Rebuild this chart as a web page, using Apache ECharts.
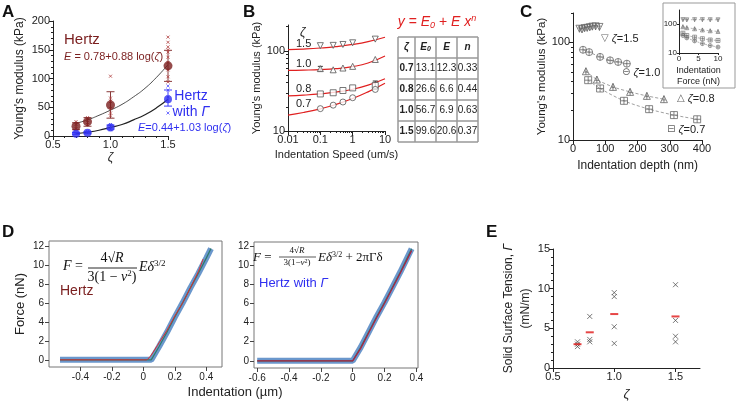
<!DOCTYPE html>
<html><head><meta charset="utf-8">
<script src="https://cdn.jsdelivr.net/npm/echarts@6/dist/echarts.min.js"></script>
<style>html,body{margin:0;padding:0;background:#fff}#c{width:738px;height:405px}</style>
</head><body><div id="c"></div>
<script>
// ---------- Panel A data ----------
const zetaA = [0.7, 0.8, 1.0, 1.5];
const hertzMean = [17, 25, 54, 122];
const hertzLo = [11, 17, 31, 95];
const hertzHi = [23, 32, 77, 149];
const gammaMean = [4, 5.5, 15, 64];
const gammaLo = [3, 4, 12, 52];
const gammaHi = [6, 7.5, 19, 80];
const hertzIndivX = [0.7,0.7,0.7,0.8,0.8,0.8,1.0,1.0,1.0,1.0,1.0,1.0,1.5,1.5,1.5,1.5,1.5,1.5,1.5,1.5,1.5,1.5];
const hertzIndivY = [25,20,13,32,27,20,104,66,60,48,40,35,172,163,155,146,137,128,115,103,94,150];
const gammaIndivX = [0.7,0.8,1.0,1.0,1.5,1.5,1.5,1.5];
const gammaIndivY = [6,8,20,11,87,80,68,40];
const fitZeta = [0.7,0.8,0.9,1.0,1.1,1.2,1.3,1.4,1.5];
const hertzFit = [22,28,36,45,55,68,83,102,124];
const gammaFit = [4,6.5,10,15,20,28,37,49,64];

// ---------- Panel B data ----------
const speedB = [0.1, 0.25, 0.5, 1, 5];
const b15 = [116, 117, 120, 126, 140];
const b10 = [60, 58, 61, 64, 78];
const b08 = [29, 30, 32, 34.5, 37];
const b07 = [19, 21, 23, 26, 33];
const fitSpeed = [0.01, 0.03, 0.1, 0.3, 1, 3, 10];
const fit15 = [103.3, 105.2, 108.4, 112.8, 120.2, 130.5, 147.9];
const fit10 = [57.1, 57.5, 58.3, 59.9, 63.6, 70.5, 86.2];
const fit08 = [27.5, 28.0, 29.0, 30.5, 33.2, 37.3, 44.8];
const fit07 = [15.8, 17.0, 18.9, 21.4, 25.4, 30.8, 39.4];
const tableZeta = ['0.7','0.8','1.0','1.5'];
const tableE0 = ['13.1','26.6','56.7','99.6'];
const tableE = ['12.3','6.6','6.9','20.6'];
const tableN = ['0.33','0.44','0.63','0.37'];

// ---------- Panel C data ----------
const c15x = [20,28,36,44,52,60,70,82];
const c15y = [138,136,140,141,143,145,146,144];
const c10x = [31,50,84,115,140,167];
const c10y = [84,79.5,71,65.5,63,60.5];
const c08x = [40,74,124,177,229,282];
const c08y = [50.6,41.6,35,31.1,28.3,26.2];
const c07x = [47,84,158,236,313,385];
const c07y = [41,33.7,25.2,20.7,18,16.3];
const forceIn = [1,2,4,6,8,10];
const in15 = [140,138,140,140,139,138];
const in10 = [80,74,68,62,58,55];
const in08 = [48,40,35,31,28,27];
const in07 = [40,33,26,21,18,16];

// ---------- Panel D data ----------
const dLx = [-0.53,-0.3,0.0,0.05,0.1,0.15,0.2,0.25,0.3,0.35,0.4,0.43];
const dLy = [0,0,0,0,1.4,2.9,4.5,6.0,7.6,9.1,10.7,11.7];
const dLfx = [-0.53,0.0,0.02,0.05,0.1,0.15,0.2,0.25,0.3,0.35,0.38];
const dLfy = [0,0,0,0.5,1.8,3.1,4.6,6.0,7.6,9.3,10.6];
const dRx = [-0.6,-0.3,0.0,0.05,0.1,0.15,0.2,0.25,0.3,0.37];
const dRy = [0,0,0,1.4,3.0,4.6,6.1,7.7,9.3,11.7];
const dRfx = [-0.6,-0.3,0.0,0.05,0.1,0.15,0.2,0.25,0.3,0.37];
const dRfy = [0,0,0,1.3,2.9,4.5,6.0,7.6,9.2,11.5];

// ---------- Panel E data ----------
const eX = [0.7,0.7,0.7,0.8,0.8,0.8,1.0,1.0,1.0,1.0,1.5,1.5,1.5,1.5];
const eY = [3.3,3.0,2.7,6.5,3.6,3.3,9.5,9.0,5.2,3.1,10.5,6.0,4.0,3.3];
const eMeanX = [0.7,0.8,1.0,1.5];
const eMean = [3.0,4.5,6.8,6.5];

const F = "'Liberation Sans', Arial, sans-serif";
const SERIF = "'Liberation Serif', 'DejaVu Serif', serif";
const DRED = '#7a1e1e', BLUE = '#2f2ff0', RED = '#e02020', GRAY = '#555';
const zip = (a,b) => a.map((v,i)=>[v,b[i]]);
const X = 'path://M0,0L10,10M10,0L0,10';
const circPlus = 'path://M0,10A10,10 0 1,1 20,10A10,10 0 1,1 0,10Z M10,0L10,20M0,10L20,10';
const rectPlus = 'path://M0,0L20,0L20,20L0,20Z M10,0L10,20M0,10L20,10';
const triPlus = 'path://M10,0L20,18L0,18Z M10,0L10,18M5,11L15,11';
const triDownPlus = 'path://M0,0L20,0L10,18Z M10,0L10,18M5,7L15,7';

function ax(o) {
  const base = {
    axisLine:{show:true,onZero:false,lineStyle:{color:'#222',width:1}},
    axisTick:{show:true,length:4,lineStyle:{color:'#222'}},
    axisLabel:{color:'#222',fontSize:11,fontFamily:F,margin:3},
    splitLine:{show:false},
    nameTextStyle:{color:'#222',fontFamily:F,fontSize:12}
  };
  for (const k in o) {
    if (base[k] && typeof base[k]==='object' && !Array.isArray(o[k]) && typeof o[k]==='object') base[k] = Object.assign({}, base[k], o[k]);
    else base[k] = o[k];
  }
  return base;
}

function errBars(xs, lo, hi, xi, yi, color, w) {
  return {
    type:'custom', xAxisIndex:xi, yAxisIndex:yi, z:3,
    data: xs.map((x,i)=>[x, lo[i], hi[i]]),
    renderItem(params, api) {
      const p1 = api.coord([api.value(0), api.value(1)]);
      const p2 = api.coord([api.value(0), api.value(2)]);
      const st = {stroke:color, lineWidth:1};
      return {type:'group', children:[
        {type:'line', shape:{x1:p1[0],y1:p1[1],x2:p2[0],y2:p2[1]}, style:st},
        {type:'line', shape:{x1:p1[0]-w,y1:p1[1],x2:p1[0]+w,y2:p1[1]}, style:st},
        {type:'line', shape:{x1:p2[0]-w,y1:p2[1],x2:p2[0]+w,y2:p2[1]}, style:st}
      ]};
    }
  };
}

const logFmt = v => (v===10||v===100) ? String(v) : '';

const grids = [
  {left:53, top:21, width:115, height:115},   // A
  {left:288, top:25, width:97, height:106},   // B
  {left:573, top:13, width:129, height:127},  // C
  {left:679, top:10, width:39, height:43},    // C inset
  {left:49, top:241, width:173, height:126},  // D left
  {left:254, top:242, width:164, height:126}, // D right
  {left:553, top:249, width:147, height:119}  // E
];

const xAxes = [
  ax({gridIndex:0, type:'value', min:0.5, max:1.5, interval:0.5, minorTick:{show:true,splitNumber:5,length:2,lineStyle:{color:'#222'}},
      axisLabel:{formatter:v=>v.toFixed(1)}, name:'ζ', nameLocation:'middle', nameGap:16, nameTextStyle:{fontStyle:'italic',fontSize:12}}),
  ax({gridIndex:1, type:'log', min:0.01, max:10, axisLabel:{formatter:v=>String(+v.toPrecision(3))},
      name:'Indentation Speed (um/s)', nameLocation:'middle', nameGap:18, nameTextStyle:{fontSize:11}}),
  ax({gridIndex:2, type:'value', min:0, max:400, interval:100,
      name:'Indentation depth (nm)', nameLocation:'middle', nameGap:20, nameTextStyle:{fontSize:12}}),
  ax({gridIndex:3, type:'value', min:0, max:10, interval:5, axisTick:{length:2}, axisLabel:{fontSize:8,margin:2},
      name:'Indentation\nForce (nN)', nameLocation:'middle', nameGap:12, nameTextStyle:{fontSize:9,lineHeight:11}}),
  ax({gridIndex:4, type:'value', min:-0.6, max:0.5, axisLine:{show:false},
      axisTick:{customValues:[-0.4,-0.2,0,0.2,0.4],lineStyle:{color:'#444'}},
      axisLabel:{customValues:[-0.4,-0.2,0,0.2,0.4], fontSize:10, margin:5, formatter:v=>String(+v.toFixed(1))}}),
  ax({gridIndex:5, type:'value', min:-0.62, max:0.41, axisLine:{show:false},
      axisTick:{customValues:[-0.6,-0.4,-0.2,0,0.2,0.4],lineStyle:{color:'#444'}},
      axisLabel:{customValues:[-0.6,-0.4,-0.2,0,0.2,0.4], fontSize:10, margin:5, formatter:v=>String(+v.toFixed(1))}}),
  ax({gridIndex:6, type:'value', min:0.5, max:1.7, axisTick:{customValues:[0.5,1.0,1.5]},
      axisLabel:{customValues:[0.5,1.0,1.5], formatter:v=>v.toFixed(1)},
      name:'ζ', nameLocation:'middle', nameGap:20, nameTextStyle:{fontStyle:'italic',fontSize:13}}),
  // minor log ticks for B x axis
  ax({gridIndex:1, type:'log', position:'bottom', min:0.01, max:10, axisLabel:{show:false}, axisLine:{show:false},
      axisTick:{customValues:[0.02,0.03,0.04,0.05,0.06,0.07,0.08,0.09,0.2,0.3,0.4,0.5,0.6,0.7,0.8,0.9,2,3,4,5,6,7,8,9],length:2}})
];

const yAxes = [
  ax({gridIndex:0, type:'value', min:0, max:200, interval:50, minorTick:{show:true,splitNumber:5,length:2,lineStyle:{color:'#222'}},
      name:"Young's modulus (kPa)", nameLocation:'middle', nameGap:27, nameTextStyle:{fontSize:12}}),
  ax({gridIndex:1, type:'log', min:10, max:210, axisLabel:{formatter:logFmt},
      axisTick:{customValues:[10,100]},
      name:"Young's modulus (kPa)", nameLocation:'middle', nameGap:21, nameTextStyle:{fontSize:11}}),
  ax({gridIndex:2, type:'log', min:10, max:200, axisLabel:{formatter:logFmt},
      axisTick:{customValues:[10,100]},
      name:"Young's modulus (kPa)", nameLocation:'middle', nameGap:24, nameTextStyle:{fontSize:11.5}}),
  ax({gridIndex:3, type:'log', min:10, max:300, axisLabel:{formatter:logFmt,fontSize:8,margin:2},
      axisTick:{customValues:[10,100],length:2}}),
  ax({gridIndex:4, type:'value', min:-0.75, max:12.5, axisLine:{show:false},
      axisTick:{customValues:[0,2,4,6,8,10,12],lineStyle:{color:'#444'}},
      axisLabel:{customValues:[0,2,4,6,8,10,12], fontSize:10, margin:5},
      name:'Force (nN)', nameLocation:'middle', nameGap:22, nameTextStyle:{fontSize:13}}),
  ax({gridIndex:5, type:'value', min:-0.75, max:12.4, axisLine:{show:false},
      axisTick:{customValues:[0,2,4,6,8,10,12],lineStyle:{color:'#444'}},
      axisLabel:{customValues:[0,2,4,6,8,10,12], fontSize:10, margin:5}}),
  ax({gridIndex:6, type:'value', min:0, max:15, interval:5, minorTick:{show:true,splitNumber:5,length:2,lineStyle:{color:'#222'}},
      name:'Solid Surface Tension, {i|Γ}\n(mN/m)', nameLocation:'middle', nameGap:19,
      nameTextStyle:{fontSize:12,lineHeight:17,rich:{i:{fontStyle:'italic',fontSize:12,fontFamily:F}}}}),
  // minor log ticks (B, C)
  ax({gridIndex:1, type:'log', position:'left', min:10, max:210, axisLabel:{show:false}, axisLine:{show:false},
      axisTick:{customValues:[20,30,40,50,60,70,80,90,200],length:2}}),
  ax({gridIndex:2, type:'log', position:'left', min:10, max:200, axisLabel:{show:false}, axisLine:{show:false},
      axisTick:{customValues:[20,30,40,50,60,70,80,90,200],length:2}})
];

const openItem = c => ({color:'#fff', borderColor:c, borderWidth:1});
const series = [
  // ---- A ----
  {type:'line', xAxisIndex:0, yAxisIndex:0, data:zip(fitZeta,hertzFit), smooth:true, symbol:'none', lineStyle:{color:'#222',width:0.8}, z:2},
  {type:'line', xAxisIndex:0, yAxisIndex:0, data:zip(fitZeta,gammaFit), smooth:true, symbol:'none', lineStyle:{color:'#222',width:1.2}, z:2},
  {type:'scatter', xAxisIndex:0, yAxisIndex:0, data:zip(hertzIndivX,hertzIndivY), symbol:X, symbolSize:3, itemStyle:{color:'none',borderColor:'#b04040',borderWidth:1}, z:3},
  {type:'scatter', xAxisIndex:0, yAxisIndex:0, data:zip(gammaIndivX,gammaIndivY), symbol:X, symbolSize:3, itemStyle:{color:'none',borderColor:'#5050ff',borderWidth:1}, z:3},
  errBars(zetaA, hertzLo, hertzHi, 0, 0, '#8a3a3a', 4),
  errBars(zetaA, gammaLo, gammaHi, 0, 0, '#3a3aff', 4),
  {type:'scatter', xAxisIndex:0, yAxisIndex:0, data:zip(zetaA,hertzMean), symbolSize:9, itemStyle:{color:DRED}, z:4},
  {type:'scatter', xAxisIndex:0, yAxisIndex:0, data:zip(zetaA,gammaMean), symbolSize:8, itemStyle:{color:BLUE}, z:4},
  // ---- B ----
  ...[[fit15],[fit10],[fit08],[fit07]].map(([f]) => ({type:'line', xAxisIndex:1, yAxisIndex:1, data:zip(fitSpeed,f), smooth:true, symbol:'none', lineStyle:{color:RED,width:1.2}, z:2})),
  {type:'scatter', xAxisIndex:1, yAxisIndex:1, data:zip(speedB,b15), symbol:'triangle', symbolRotate:180, symbolSize:6, itemStyle:openItem(GRAY), z:3},
  {type:'scatter', xAxisIndex:1, yAxisIndex:1, data:zip(speedB,b10), symbol:'triangle', symbolSize:6, itemStyle:openItem(GRAY), z:3},
  {type:'scatter', xAxisIndex:1, yAxisIndex:1, data:zip(speedB,b08), symbol:'rect', symbolSize:6, itemStyle:openItem(GRAY), z:3},
  {type:'scatter', xAxisIndex:1, yAxisIndex:1, data:zip(speedB,b07), symbol:'circle', symbolSize:6, itemStyle:openItem(GRAY), z:3},
  errBars([0.1,5], [56,33], [64,42], 1, 1, '#333', 2.5),
  // ---- C ----
  ...[[c15x,c15y,triDownPlus],[c10x,c10y,circPlus],[c08x,c08y,triPlus],[c07x,c07y,rectPlus]].map(([xs,ys,sym]) => ({
    type:'line', xAxisIndex:2, yAxisIndex:2, data:zip(xs,ys), smooth:0.3, symbol:sym, symbolSize:7, showAllSymbol:true,
    lineStyle:{color:'#888',width:0.8,type:[3,2]}, itemStyle:{color:'none',borderColor:'#666',borderWidth:0.8}, z:3})),
  ...[[in15,triDownPlus],[in10,triPlus],[in08,rectPlus],[in07,circPlus]].map(([ys,sym]) => ({
    type:'line', xAxisIndex:3, yAxisIndex:3, data:zip(forceIn,ys), symbol:sym, symbolSize:4, showAllSymbol:true,
    lineStyle:{color:'#888',width:0.6,type:[2,2]}, itemStyle:{color:'none',borderColor:'#666',borderWidth:0.6}, z:12})),
  // ---- D ----
  {type:'line', xAxisIndex:4, yAxisIndex:4, data:zip(dLx,dLy), symbol:'none', lineStyle:{color:'#5a8cc6',width:6,opacity:0.9}, z:2},
  {type:'line', xAxisIndex:4, yAxisIndex:4, data:zip(dLx,dLy), symbol:'none', lineStyle:{color:'#2f7a6a',width:1.2}, z:3},
  {type:'line', xAxisIndex:4, yAxisIndex:4, data:zip(dLfx,dLfy), symbol:'none', smooth:0.2, lineStyle:{color:'#e02828',width:1}, z:4},
  {type:'line', xAxisIndex:5, yAxisIndex:5, data:zip(dRx,dRy), symbol:'none', lineStyle:{color:'#5a8cc6',width:6,opacity:0.9}, z:2},
  {type:'line', xAxisIndex:5, yAxisIndex:5, data:zip(dRx,dRy), symbol:'none', lineStyle:{color:'#2f7a6a',width:1.2}, z:3},
  {type:'line', xAxisIndex:5, yAxisIndex:5, data:zip(dRfx,dRfy), symbol:'none', lineStyle:{color:'#b02040',width:1.2}, z:4},
  // ---- E ----
  {type:'scatter', xAxisIndex:6, yAxisIndex:6, data:zip(eX,eY), symbol:X, symbolSize:5, itemStyle:{color:'none',borderColor:'#444',borderWidth:0.9}, z:3},
  {type:'scatter', xAxisIndex:6, yAxisIndex:6, data:zip(eMeanX,eMean), symbol:'rect', symbolSize:[8,2], itemStyle:{color:'#e01818'}, z:4}
];

// ---- graphics ----
const g = [];
const txt = (x,y,text,style,extra) => g.push(Object.assign({type:'text', x, y, style:Object.assign({text, fontFamily:F, fontSize:11, fill:'#222'}, style)}, extra||{}));
// panel letters
[['A',2,4],['B',243,4],['C',520,4],['D',2,224],['E',486,224]].forEach(([t,x,y]) => txt(x,y,t,{fontSize:17,fontWeight:'bold',fill:'#111'}));
// A texts
txt(64,32,'Hertz',{fontSize:15,fill:DRED});
txt(64,51,'{i|E} = 0.78+0.88 log({i|ζ})',{fontSize:11,fill:DRED,rich:{i:{fontStyle:'italic',fontSize:11,fill:DRED,fontFamily:F}}});
txt(191,88,'Hertz\nwith {i|Γ}',{fontSize:14,fill:BLUE,align:'center',lineHeight:16,rich:{i:{fontStyle:'italic',fontSize:14,fill:BLUE,fontFamily:F}}});
txt(138,122,'{i|E}=0.44+1.03 log({i|ζ})',{fontSize:11,fill:BLUE,rich:{i:{fontStyle:'italic',fontSize:11,fill:BLUE,fontFamily:F}}});
// B texts
txt(300,27,'ζ',{fontSize:12,fontStyle:'italic'});
[['1.5',38],['1.0',58],['0.8',83],['0.7',98]].forEach(([t,y])=>txt(296,y,t,{fontSize:11}));
txt(437,22,'{i|y} = {i|E}{s|0} + {i|E x}{p|n}',{fontSize:14,fill:RED,align:'center',verticalAlign:'middle',
  rich:{i:{fontStyle:'italic',fontSize:14,fill:RED,fontFamily:F},s:{fontStyle:'italic',fontSize:9,fill:RED,verticalAlign:'bottom',fontFamily:F,padding:[6,0,0,0]},p:{fontStyle:'italic',fontSize:9,fill:RED,verticalAlign:'top',fontFamily:F,padding:[0,0,7,0]}}});
// table
const colX = [398,415,436,457,478];
const rowY = [37,58,79,100,121,142];
for (let i=0;i<colX.length;i++) g.push({type:'line', shape:{x1:colX[i],y1:rowY[0],x2:colX[i],y2:rowY[rowY.length-1]}, style:{stroke:'#999',lineWidth:1.5}});
for (let j=0;j<rowY.length;j++) g.push({type:'line', shape:{x1:colX[0],y1:rowY[j],x2:colX[colX.length-1],y2:rowY[j]}, style:{stroke:'#999',lineWidth:1.5}});
const cx = i => (colX[i]+colX[i+1])/2, cy = j => (rowY[j]+rowY[j+1])/2;
const cell = (i,j,t,st) => g.push({type:'text', x:cx(i), y:cy(j), style:Object.assign({text:t, fontFamily:F, fontSize:10, fill:'#222', align:'center', verticalAlign:'middle'}, st||{})});
cell(0,0,'ζ',{fontWeight:'bold',fontStyle:'italic'});
cell(1,0,'{b|E}{s|0}',{rich:{b:{fontWeight:'bold',fontStyle:'italic',fontSize:10,fontFamily:F},s:{fontWeight:'bold',fontStyle:'italic',fontSize:7,fontFamily:F,verticalAlign:'bottom'}}});
cell(2,0,'E',{fontWeight:'bold',fontStyle:'italic'});
cell(3,0,'n',{fontWeight:'bold',fontStyle:'italic'});
tableZeta.forEach((z,j)=>{ cell(0,j+1,z,{fontWeight:'bold'}); cell(1,j+1,tableE0[j]); cell(2,j+1,tableE[j]); cell(3,j+1,tableN[j]); });
// C labels
const cr = {i:{fontStyle:'italic',fontSize:11,fontFamily:F,fill:'#222'}, s:{fontSize:10,fill:'#666',fontFamily:'DejaVu Sans'}};
txt(601,33,'{s|▽} {i|ζ}=1.5',{fontSize:11,rich:cr});
txt(622,67,'{s|⊖} {i|ζ}=1.0',{fontSize:11,rich:cr});
txt(677,93,'{s|△} {i|ζ}=0.8',{fontSize:11,rich:cr});
txt(667,124,'{s|⊟} {i|ζ}=0.7',{fontSize:11,rich:cr});
g.push({type:'rect', shape:{x:663,y:3,width:72,height:85}, style:{fill:'#fff',stroke:'#999',lineWidth:1}, z:-1});
// D formulas
const mr = (fs) => ({i:{fontStyle:'italic',fontFamily:SERIF,fontSize:fs,fill:'#111'}, n:{fontFamily:SERIF,fontSize:fs,fill:'#111'}, s:{fontFamily:SERIF,fontSize:Math.round(fs*0.62),fill:'#111',verticalAlign:'top',padding:[0,0,Math.round(fs*0.45),0]}});
const ft = (x,y,t,fs,al) => g.push({type:'text', x, y, z:20, style:{text:t, fontFamily:SERIF, fontSize:fs, fill:'#111', align:al||'left', verticalAlign:'middle', rich:mr(fs)}});
ft(63,266,'{i|F} =',14);
ft(112,258,'{n|4√}{i|R}',14,'center');
g.push({type:'line', z:20, shape:{x1:88,y1:268,x2:137,y2:268}, style:{stroke:'#111',lineWidth:0.9}});
ft(112,277,'{n|3(1 − }{i|v}{s|2}{n|)}',14,'center');
ft(139,267,'{i|Eδ}{s|3/2}',14);
txt(60,284,'Hertz',{fontSize:14,fill:DRED});
ft(253,258,'{i|F} =',13);
ft(297,251,'{n|4√}{i|R}',9,'center');
g.push({type:'line', z:20, shape:{x1:279,y1:257,x2:316,y2:257}, style:{stroke:'#111',lineWidth:0.7}});
ft(297,263,'{n|3(1−}{i|v}{s|2}{n|)}',9,'center');
ft(318,258,'{i|Eδ}{s|3/2}{n| + 2πΓδ}',13);
txt(259,277,'Hertz with {i|Γ}',{fontSize:13,fill:BLUE,rich:{i:{fontStyle:'italic',fontSize:13,fill:BLUE,fontFamily:F}}});
txt(235,392,'Indentation (µm)',{fontSize:13,align:'center',verticalAlign:'middle'});

const chart = echarts.init(document.getElementById('c'), null, {renderer:'canvas'});
chart.setOption({
  animation:false,
  backgroundColor:'#fff',
  textStyle:{fontFamily:F},
  grid: grids.map((gr,i)=>Object.assign({containLabel:false, show:(i===4||i===5), borderColor:'#777', borderWidth:1, backgroundColor:'transparent'}, gr)),
  xAxis: xAxes,
  yAxis: yAxes,
  series,
  graphic: g
});
</script></body></html>
